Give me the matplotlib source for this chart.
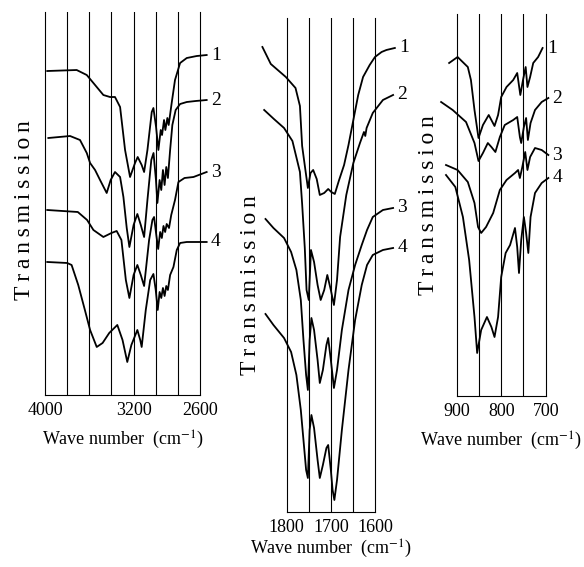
import matplotlib.pyplot as plt

plt.rcParams['font.family'] = ['Liberation Serif', 'DejaVu Serif']
plt.rcParams['mathtext.fontset'] = 'stix'

# ---- panel A : 4000-2600 cm-1 (transmission in arbitrary units) ----
wn_a1 = [3980, 3714, 3623, 3548, 3473, 3413, 3368, 3322, 3277, 3232, 3187, 3163, 3127, 3105, 3075, 3036,
         3021, 2997, 2976, 2955, 2943, 2925, 2913, 2895, 2883, 2856, 2826, 2780, 2720, 2630, 2540]
tr_a1 = [324, 325, 320, 310, 300, 298, 298, 288, 245, 218, 232, 238, 230, 223, 245, 283,
         287, 268, 245, 265, 260, 275, 265, 277, 270, 292, 315, 332, 337, 339, 340]
wn_a2 = [3970, 3774, 3684, 3623, 3593, 3548, 3503, 3443, 3407, 3368, 3322, 3292, 3262, 3238, 3200, 3166, 3135, 3105,
         3075, 3040, 3020, 2998, 2985, 2965, 2950, 2935, 2920, 2905, 2890, 2870, 2850, 2820, 2780, 2720, 2640, 2540]
tr_a2 = [257, 259, 255, 242, 232, 225, 215, 202, 215, 223, 218, 198, 167, 148, 170, 181, 170, 158,
         195, 235, 242, 215, 192, 215, 205, 225, 210, 228, 217, 245, 270, 285, 291, 293, 294, 295]
wn_a3 = [3980, 3704, 3620, 3563, 3473, 3400, 3353, 3310, 3270, 3238, 3200, 3166, 3135, 3105, 3060, 3030,
         3015, 2995, 2978, 2960, 2945, 2930, 2915, 2901, 2880, 2860, 2826, 2795, 2740, 2659, 2540]
tr_a3 = [185, 183, 175, 165, 158, 162, 164, 155, 115, 97, 120, 130, 120, 109, 155, 175,
         178, 160, 146, 163, 157, 169, 163, 171, 167, 180, 195, 213, 217, 218, 223]
wn_a4 = [3980, 3800, 3760, 3700, 3640, 3593, 3533, 3480, 3420, 3347, 3300, 3257, 3220, 3166, 3140, 3127, 3090,
         3050, 3021, 3000, 2982, 2965, 2950, 2935, 2920, 2905, 2890, 2870, 2840, 2810, 2780, 2720, 2540]
tr_a4 = [133, 132, 130, 110, 85, 65, 48, 52, 62, 70, 55, 33, 50, 65, 55, 48, 85,
         115, 121, 105, 85, 103, 97, 107, 99, 109, 105, 120, 128, 145, 152, 153, 153]

# ---- panel B : 1800-1600 cm-1 ----
wn_b1 = [1855, 1836, 1802, 1780, 1770, 1765, 1757, 1752, 1746, 1740, 1732, 1725, 1715, 1706,
         1699, 1691, 1682, 1670, 1660, 1649, 1638, 1627, 1612, 1600, 1585, 1574, 1555]
tr_b1 = [465, 448, 435, 424, 406, 366, 340, 324, 339, 342, 333, 317, 319, 323,
         320, 318, 331, 347, 367, 392, 417, 435, 447, 455, 460, 462, 464]
wn_b2 = [1851, 1829, 1806, 1787, 1776, 1770, 1765, 1759, 1755, 1750, 1745, 1738, 1730, 1723, 1715,
         1708, 1700, 1693, 1686, 1679, 1665, 1649, 1634, 1625, 1622, 1619, 1605, 1582, 1559]
tr_b2 = [402, 393, 384, 371, 351, 340, 308, 264, 222, 212, 262, 250, 227, 212, 222,
         237, 222, 207, 232, 275, 317, 349, 369, 380, 376, 384, 399, 412, 417]
wn_b3 = [1848, 1830, 1806, 1790, 1778, 1768, 1762, 1756, 1752, 1748, 1744, 1738, 1730, 1725,
         1718, 1710, 1706, 1700, 1693, 1686, 1675, 1660, 1645, 1630, 1618, 1605, 1582, 1559]
tr_b3 = [293, 284, 274, 260, 242, 212, 172, 137, 122, 172, 194, 182, 152, 129,
         142, 167, 174, 152, 124, 142, 182, 222, 247, 267, 282, 295, 302, 304]
wn_b4 = [1848, 1830, 1806, 1790, 1778, 1768, 1762, 1756, 1752, 1748, 1744, 1738, 1730, 1725, 1718,
         1710, 1706, 1700, 1696, 1692, 1686, 1675, 1660, 1645, 1630, 1618, 1605, 1582, 1559]
tr_b4 = [198, 187, 174, 160, 137, 102, 72, 42, 34, 82, 97, 84, 52, 34, 47,
         64, 67, 42, 22, 12, 32, 82, 142, 192, 227, 247, 257, 262, 264]

# ---- panel C : 900-700 cm-1 ----
wn_c1 = [917, 898, 875, 868, 860, 851, 841, 828, 815, 807, 800, 788, 773, 764, 757, 751, 745, 741, 735, 728, 717, 707]
tr_c1 = [333, 339, 329, 316, 286, 258, 271, 281, 270, 281, 299, 309, 316, 323, 301, 316, 329, 309, 319, 333, 339, 348]
wn_c2 = [935, 909, 879, 860, 851, 841, 830, 822, 813, 803, 792, 773, 764, 758, 755, 749, 744, 740, 734, 724, 709, 694]
tr_c2 = [294, 286, 274, 253, 235, 243, 253, 249, 244, 259, 271, 276, 279, 259, 253, 269, 278, 256, 273, 286, 294, 298]
wn_c3 = [924, 898, 875, 860, 852, 845, 834, 818, 803, 788, 769, 762, 758, 753, 746, 741, 735, 724, 709, 694]
tr_c3 = [231, 226, 214, 193, 169, 163, 169, 183, 206, 216, 223, 226, 218, 228, 244, 226, 239, 248, 246, 241]
wn_c4 = [924, 903, 886, 872, 860, 854, 845, 832, 822, 815, 807, 800, 790, 780, 769, 764, 760,
         755, 749, 744, 739, 734, 724, 709, 694]
tr_c4 = [221, 209, 179, 136, 79, 43, 66, 79, 69, 59, 79, 119, 143, 151, 168, 149, 123,
         156, 179, 163, 143, 179, 203, 213, 218]

grid_a = [3800, 3600, 3400, 3200, 3000, 2800]
grid_b = [1750, 1700, 1650]
grid_c = [850, 800, 750]
ticks_a = [4000, 3200, 2600]
ticks_b = [1800, 1700, 1600]
ticks_c = [900, 800, 700]


def draw_panel(ax, xlim, ylim, grid, ticks, spectra, labelpad=7):
    ax.set_xlim(xlim)
    ax.set_ylim(ylim)
    for g in grid:
        ax.axvline(g, color='black', lw=0.8)
    for k, (wn, tr) in enumerate(spectra):
        ax.plot(wn, tr, color='black', lw=1.3, clip_on=False)
        ax.annotate(str(k + 1), (wn[-1], tr[-1]), xytext=(3, 0), textcoords='offset points',
                    ha='left', va='center', fontsize=14, annotation_clip=False)
    ax.set_xticks(ticks)
    ax.set_xticklabels([str(t) for t in ticks])
    ax.set_yticks([])
    ax.tick_params(axis='x', length=0, labelsize=13, pad=5)
    ax.spines['top'].set_visible(False)
    for s in ['left', 'right', 'bottom']:
        ax.spines[s].set_linewidth(0.8)
    ax.set_xlabel('Wave number  (cm$^{-1}$)', fontsize=13, labelpad=labelpad)


fig = plt.figure(figsize=(5.84, 5.67), dpi=100)

ax1 = fig.add_axes([0.0771, 0.3034, 0.2654, 0.6754])
draw_panel(ax1, (4000, 2600), (0, 383), grid_a, ticks_a,
           [(wn_a1, tr_a1), (wn_a2, tr_a2), (wn_a3, tr_a3), (wn_a4, tr_a4)])

ax2 = fig.add_axes([0.4909, 0.0970, 0.1512, 0.8713])
draw_panel(ax2, (1800, 1600), (0, 494), grid_b, ticks_b,
           [(wn_b1, tr_b1), (wn_b2, tr_b2), (wn_b3, tr_b3), (wn_b4, tr_b4)], labelpad=1)

ax3 = fig.add_axes([0.7820, 0.3016, 0.1524, 0.6737])
draw_panel(ax3, (900, 700), (0, 382), grid_c, ticks_c,
           [(wn_c1, tr_c1), (wn_c2, tr_c2), (wn_c3, tr_c3), (wn_c4, tr_c4)])

# letter-spaced axis title, as in the printed figure
ylab = '\u2009'.join('Transmission')
for x, y in [(25, 210), (250, 285), (428, 205)]:
    fig.text(x / 584, 1 - y / 567, ylab, rotation=90,
             ha='center', va='center', fontsize=17)

fig.savefig('out.png', dpi=100)
